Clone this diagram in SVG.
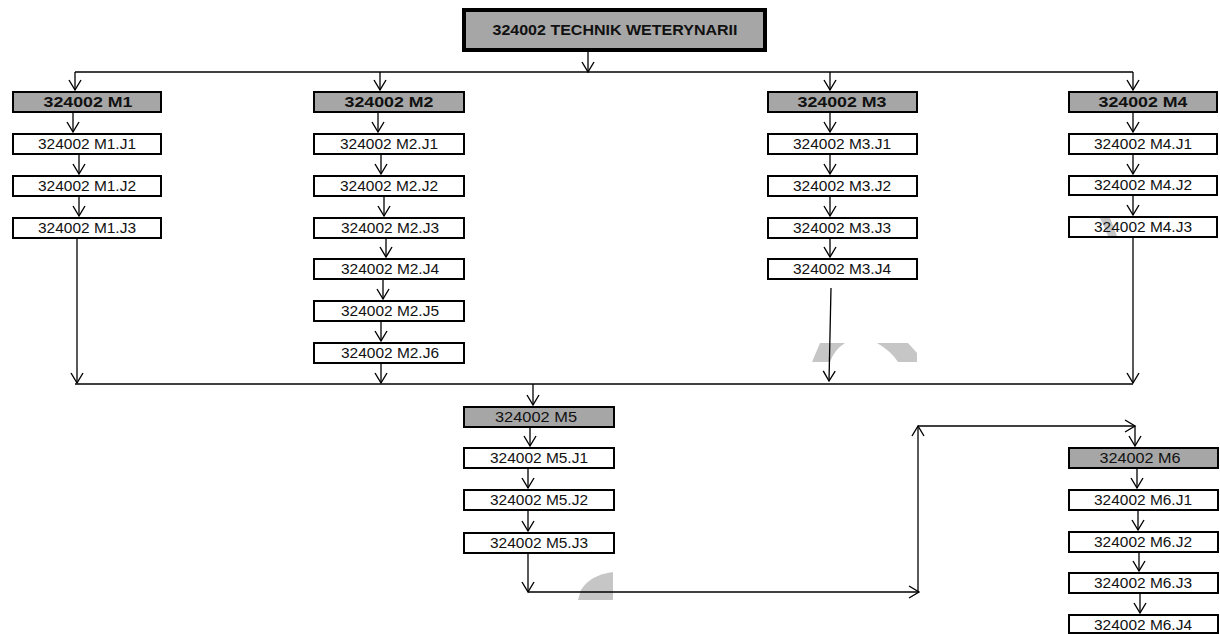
<svg xmlns="http://www.w3.org/2000/svg" width="1220" height="634" viewBox="0 0 1220 634">
<style>
.hdr{fill:#a6a6a6;stroke:#000;stroke-width:2}
.box{fill:#fff;stroke:#000;stroke-width:2}
.t{font-family:"Liberation Sans",Arial,sans-serif;font-size:14px;text-anchor:middle;fill:#111}
.b{font-weight:bold}
.c{stroke:#000;stroke-width:1.3;fill:none}
.a{marker-end:url(#ah)}
.wm{fill:#c6c6c6;stroke:none}
</style>
<defs>
<marker id="ah" markerUnits="userSpaceOnUse" markerWidth="14" markerHeight="16" refX="0" refY="0" viewBox="-12 -8 14 16" orient="auto" overflow="visible">
<path d="M-10,-6 L0,0 L-10,6" fill="none" stroke="#000" stroke-width="1.4"/>
</marker>
</defs>
<rect width="1220" height="634" fill="#fff"/>

<g id="watermark">
<path class="wm" d="M812,362 L820,343 L845,343 Q834,350 830,362 Z"/>
<path class="wm" d="M877,343 L908,343 L917,353 L917,362 L898,362 Q891,351 877,343 Z"/>
<path class="wm" d="M578,600 L581,590 Q590,575 613,572 L613,600 Z"/>
</g>

<g id="title">
<rect x="464" y="10" width="301" height="40" fill="#a6a6a6" stroke="#000" stroke-width="4"/>
<text class="t b" x="615" y="35" font-size="15.5" textLength="245" lengthAdjust="spacingAndGlyphs">324002 TECHNIK WETERYNARII</text>
</g>

<g id="connectors">
<line class="c a" x1="588" y1="52" x2="588" y2="72"/>
<line class="c" x1="75" y1="72" x2="1133" y2="72"/>
<line class="c a" x1="75" y1="72" x2="75" y2="90"/>
<line class="c a" x1="380" y1="72" x2="380" y2="90"/>
<line class="c a" x1="830" y1="72" x2="830" y2="90"/>
<line class="c a" x1="1133" y1="72" x2="1133" y2="90"/>
<line class="c a" x1="73" y1="113" x2="73" y2="132"/>
<line class="c a" x1="79" y1="155" x2="79" y2="174"/>
<line class="c a" x1="79" y1="197" x2="79" y2="216"/>
<line class="c a" x1="77" y1="239" x2="77" y2="383"/>
<line class="c a" x1="378" y1="113" x2="378" y2="132"/>
<line class="c a" x1="381" y1="155" x2="381" y2="174"/>
<line class="c a" x1="384" y1="197" x2="384" y2="216"/>
<line class="c a" x1="386" y1="239" x2="386" y2="257"/>
<line class="c a" x1="383" y1="280" x2="383" y2="299"/>
<line class="c a" x1="381" y1="322" x2="381" y2="341"/>
<line class="c a" x1="381" y1="364" x2="381" y2="383"/>
<line class="c a" x1="830" y1="113" x2="830" y2="132"/>
<line class="c a" x1="830" y1="155" x2="830" y2="174"/>
<line class="c a" x1="830" y1="197" x2="830" y2="216"/>
<line class="c a" x1="830" y1="239" x2="830" y2="257"/>
<line class="c a" x1="831" y1="288" x2="829" y2="381"/>
<line class="c a" x1="1133" y1="113" x2="1133" y2="132"/>
<line class="c a" x1="1133" y1="155" x2="1133" y2="174"/>
<line class="c a" x1="1133" y1="196" x2="1133" y2="215"/>
<line class="c a" x1="1133" y1="238" x2="1133" y2="383"/>
<line class="c" x1="75" y1="384" x2="1133" y2="384"/>
<line class="c a" x1="533" y1="384" x2="533" y2="405"/>
<line class="c a" x1="530" y1="428" x2="530" y2="446"/>
<line class="c a" x1="528" y1="469" x2="528" y2="488"/>
<line class="c a" x1="528" y1="511" x2="528" y2="531"/>
<line class="c a" x1="528" y1="554" x2="528" y2="592"/>
<line class="c a" x1="528" y1="592" x2="919" y2="592"/>
<line class="c a" x1="918" y1="592" x2="918" y2="426"/>
<line class="c a" x1="918" y1="426" x2="1135" y2="426"/>
<line class="c a" x1="1135" y1="426" x2="1135" y2="446"/>
<line class="c a" x1="1137" y1="469" x2="1137" y2="488"/>
<line class="c a" x1="1138" y1="511" x2="1138" y2="530"/>
<line class="c a" x1="1139" y1="553" x2="1139" y2="571"/>
<line class="c a" x1="1140" y1="594" x2="1140" y2="613"/>
</g>

<g id="M1"><rect class="hdr" x="13" y="92" width="148" height="20"/><text class="t b" x="88" y="107" textLength="89" lengthAdjust="spacingAndGlyphs">324002 M1</text></g>
<g id="M1J1"><rect class="box" x="13" y="134" width="148" height="20"/><text class="t" x="87" y="149" textLength="98" lengthAdjust="spacingAndGlyphs">324002 M1.J1</text></g>
<g id="M1J2"><rect class="box" x="13" y="176" width="148" height="20"/><text class="t" x="87" y="191" textLength="98" lengthAdjust="spacingAndGlyphs">324002 M1.J2</text></g>
<g id="M1J3"><rect class="box" x="13" y="218" width="148" height="20"/><text class="t" x="87" y="233" textLength="98" lengthAdjust="spacingAndGlyphs">324002 M1.J3</text></g>

<g id="M2"><rect class="hdr" x="314" y="92" width="150" height="20"/><text class="t b" x="389" y="107" textLength="89" lengthAdjust="spacingAndGlyphs">324002 M2</text></g>
<g id="M2J1"><rect class="box" x="314" y="134" width="150" height="20"/><text class="t" x="389" y="149" textLength="98" lengthAdjust="spacingAndGlyphs">324002 M2.J1</text></g>
<g id="M2J2"><rect class="box" x="314" y="176" width="150" height="20"/><text class="t" x="389" y="191" textLength="98" lengthAdjust="spacingAndGlyphs">324002 M2.J2</text></g>
<g id="M2J3"><rect class="box" x="314" y="218" width="150" height="20"/><text class="t" x="390" y="233" textLength="98" lengthAdjust="spacingAndGlyphs">324002 M2.J3</text></g>
<g id="M2J4"><rect class="box" x="314" y="259" width="150" height="20"/><text class="t" x="390" y="274" textLength="98" lengthAdjust="spacingAndGlyphs">324002 M2.J4</text></g>
<g id="M2J5"><rect class="box" x="314" y="301" width="150" height="20"/><text class="t" x="390" y="316" textLength="98" lengthAdjust="spacingAndGlyphs">324002 M2.J5</text></g>
<g id="M2J6"><rect class="box" x="314" y="343" width="150" height="20"/><text class="t" x="390" y="358" textLength="98" lengthAdjust="spacingAndGlyphs">324002 M2.J6</text></g>

<g id="M3"><rect class="hdr" x="768" y="92" width="149" height="20"/><text class="t b" x="842" y="107" textLength="89" lengthAdjust="spacingAndGlyphs">324002 M3</text></g>
<g id="M3J1"><rect class="box" x="768" y="134" width="149" height="20"/><text class="t" x="842" y="149" textLength="98" lengthAdjust="spacingAndGlyphs">324002 M3.J1</text></g>
<g id="M3J2"><rect class="box" x="768" y="176" width="149" height="20"/><text class="t" x="842" y="191" textLength="98" lengthAdjust="spacingAndGlyphs">324002 M3.J2</text></g>
<g id="M3J3"><rect class="box" x="768" y="218" width="149" height="20"/><text class="t" x="842" y="233" textLength="98" lengthAdjust="spacingAndGlyphs">324002 M3.J3</text></g>
<g id="M3J4"><rect class="box" x="768" y="259" width="149" height="20"/><text class="t" x="842" y="274" textLength="98" lengthAdjust="spacingAndGlyphs">324002 M3.J4</text></g>

<g id="M4"><rect class="hdr" x="1069" y="92" width="148" height="20"/><text class="t b" x="1143" y="107" textLength="89" lengthAdjust="spacingAndGlyphs">324002 M4</text></g>
<g id="M4J1"><rect class="box" x="1069" y="134" width="148" height="20"/><text class="t" x="1143" y="149" textLength="98" lengthAdjust="spacingAndGlyphs">324002 M4.J1</text></g>
<g id="M4J2"><rect class="box" x="1069" y="176" width="148" height="19"/><text class="t" x="1143" y="190" textLength="98" lengthAdjust="spacingAndGlyphs">324002 M4.J2</text></g>
<g id="M4J3"><rect class="box" x="1069" y="217" width="148" height="20"/><path class="wm" d="M1100,218 L1110,218 Q1114,228 1117,236 L1108,236 Q1104,226 1100,218 Z"/><text class="t" x="1143" y="232" textLength="98" lengthAdjust="spacingAndGlyphs">324002 M4.J3</text></g>

<g id="M5"><rect class="hdr" x="464" y="407" width="150" height="20"/><text class="t" x="536" y="422" textLength="82" lengthAdjust="spacingAndGlyphs">324002 M5</text></g>
<g id="M5J1"><rect class="box" x="464" y="448" width="150" height="20"/><text class="t" x="539" y="463" textLength="98" lengthAdjust="spacingAndGlyphs">324002 M5.J1</text></g>
<g id="M5J2"><rect class="box" x="464" y="490" width="150" height="20"/><text class="t" x="539" y="505" textLength="98" lengthAdjust="spacingAndGlyphs">324002 M5.J2</text></g>
<g id="M5J3"><rect class="box" x="464" y="533" width="150" height="20"/><text class="t" x="539" y="548" textLength="98" lengthAdjust="spacingAndGlyphs">324002 M5.J3</text></g>

<g id="M6"><rect class="hdr" x="1069" y="448" width="149" height="20"/><text class="t" x="1140" y="463" textLength="81" lengthAdjust="spacingAndGlyphs">324002 M6</text></g>
<g id="M6J1"><rect class="box" x="1069" y="490" width="149" height="20"/><text class="t" x="1143" y="505" textLength="98" lengthAdjust="spacingAndGlyphs">324002 M6.J1</text></g>
<g id="M6J2"><rect class="box" x="1069" y="532" width="149" height="20"/><text class="t" x="1143" y="547" textLength="98" lengthAdjust="spacingAndGlyphs">324002 M6.J2</text></g>
<g id="M6J3"><rect class="box" x="1069" y="573" width="149" height="20"/><text class="t" x="1143" y="588" textLength="98" lengthAdjust="spacingAndGlyphs">324002 M6.J3</text></g>
<g id="M6J4"><rect class="box" x="1069" y="615" width="149" height="18"/><text class="t" x="1143" y="630" textLength="98" lengthAdjust="spacingAndGlyphs">324002 M6.J4</text></g>
</svg>
